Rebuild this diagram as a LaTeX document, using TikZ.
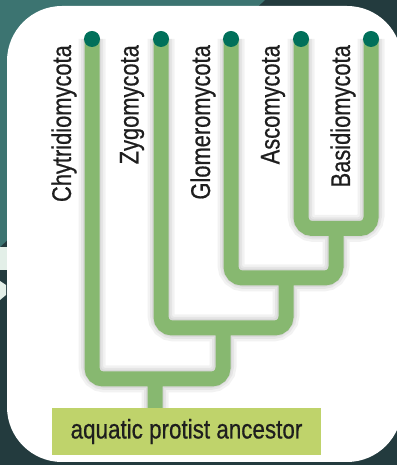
\documentclass[tikz,border=0pt]{standalone}
\usepackage{fontspec}
\newfontfamily\condsans[FakeStretch=0.81,FakeBold=0.6]{Liberation Sans}
\newfontfamily\boxsans[FakeStretch=0.83,FakeBold=0.6]{Liberation Sans}
\definecolor{bgdark}{HTML}{233B3E}
\definecolor{bgteal}{HTML}{3C7471}
\definecolor{bglight}{HTML}{E3EFE8}
\definecolor{branchgreen}{HTML}{87B870}
\definecolor{tipgreen}{HTML}{00705A}
\definecolor{boxgreen}{HTML}{BFD36B}
\definecolor{inkdark}{HTML}{1E1E1E}
\pgfdeclarelayer{backdrop}
\pgfdeclarelayer{wires}
\pgfsetlayers{backdrop,wires,main}
\begin{document}
\begin{tikzpicture}[x=1pt,y=1pt,
  branch/.style={line width=15pt, draw=branchgreen, rounded corners=11pt},
  branchshade/.style={line width=#1, draw=black, opacity=0.05, rounded corners=13pt},
  tip/.style={circle, fill=tipgreen, minimum size=16pt, inner sep=0pt},
  taxon/.style={rotate=90, anchor=east, inner sep=0pt,
    font=\condsans\fontsize{27}{32}\selectfont, text=inkdark},
  ancestorbox/.style={fill=boxgreen, minimum width=269pt, minimum height=47pt,
    inner sep=0pt, font=\boxsans\fontsize{27}{32}\selectfont, text=inkdark}
]
\useasboundingbox (0,0) rectangle (397,465);

% backdrop and white panel
\begin{pgfonlayer}{backdrop}
  \fill[bgdark] (0,0) rectangle (397,465);
  \fill[bgteal] (0,465) -- (265,465) -- (0,218) -- cycle;
  \fill[bglight] (0,195) rectangle (8,218);
  \fill[bglight] (0,165) -- (6,170) -- (6,180) -- (0,184) -- cycle;
  \fill[white, rounded corners=55pt] (7,3) rectangle (402,459);
\end{pgfonlayer}

% tips of the tree
\node[tip] (chyt)  at (92,426)  {};
\node[tip] (zygo)  at (161,426) {};
\node[tip] (glom)  at (231,426) {};
\node[tip] (asco)  at (301,426) {};
\node[tip] (basid) at (371,426) {};

% taxon names
\node[taxon] (lchyt)  at (64,420)  {Chytridiomycota};
\node[taxon] (lzygo)  at (132,420) {Zygomycota};
\node[taxon] (lglom)  at (203,420) {Glomeromycota};
\node[taxon] (lasco)  at (273,420) {Ascomycota};
\node[taxon] (lbasid) at (343,420) {Basidiomycota};

% root
\node[ancestorbox] (ancestor) at (186.5,33.5) {aquatic protist ancestor};

% branching points
\coordinate (jAB) at (336,236.5);
\coordinate (jG)  at (286,187);
\coordinate (jZ)  at (223,137);
\coordinate (jC)  at (155,86);

\begin{pgfonlayer}{wires}
  % soft shadow under the branches
  \foreach \w in {27pt,22pt,18pt}
    \draw[branchshade=\w, xshift=4pt, yshift=-3pt]
      (asco.center) |- (jAB) -| (basid.center)
      (glom.center) |- (jG) -| (jAB)
      (zygo.center) |- (jZ) -| (jG)
      (chyt.center) |- (jC) -| (jZ)
      (jC) -- (jC |- ancestor.north);
  % branches
  \draw[branch]
    (asco.center) |- (jAB) -| (basid.center)
    (glom.center) |- (jG) -| (jAB)
    (zygo.center) |- (jZ) -| (jG)
    (chyt.center) |- (jC) -| (jZ)
    (jC) -- (jC |- ancestor.north);
\end{pgfonlayer}
\end{tikzpicture}
\end{document}
